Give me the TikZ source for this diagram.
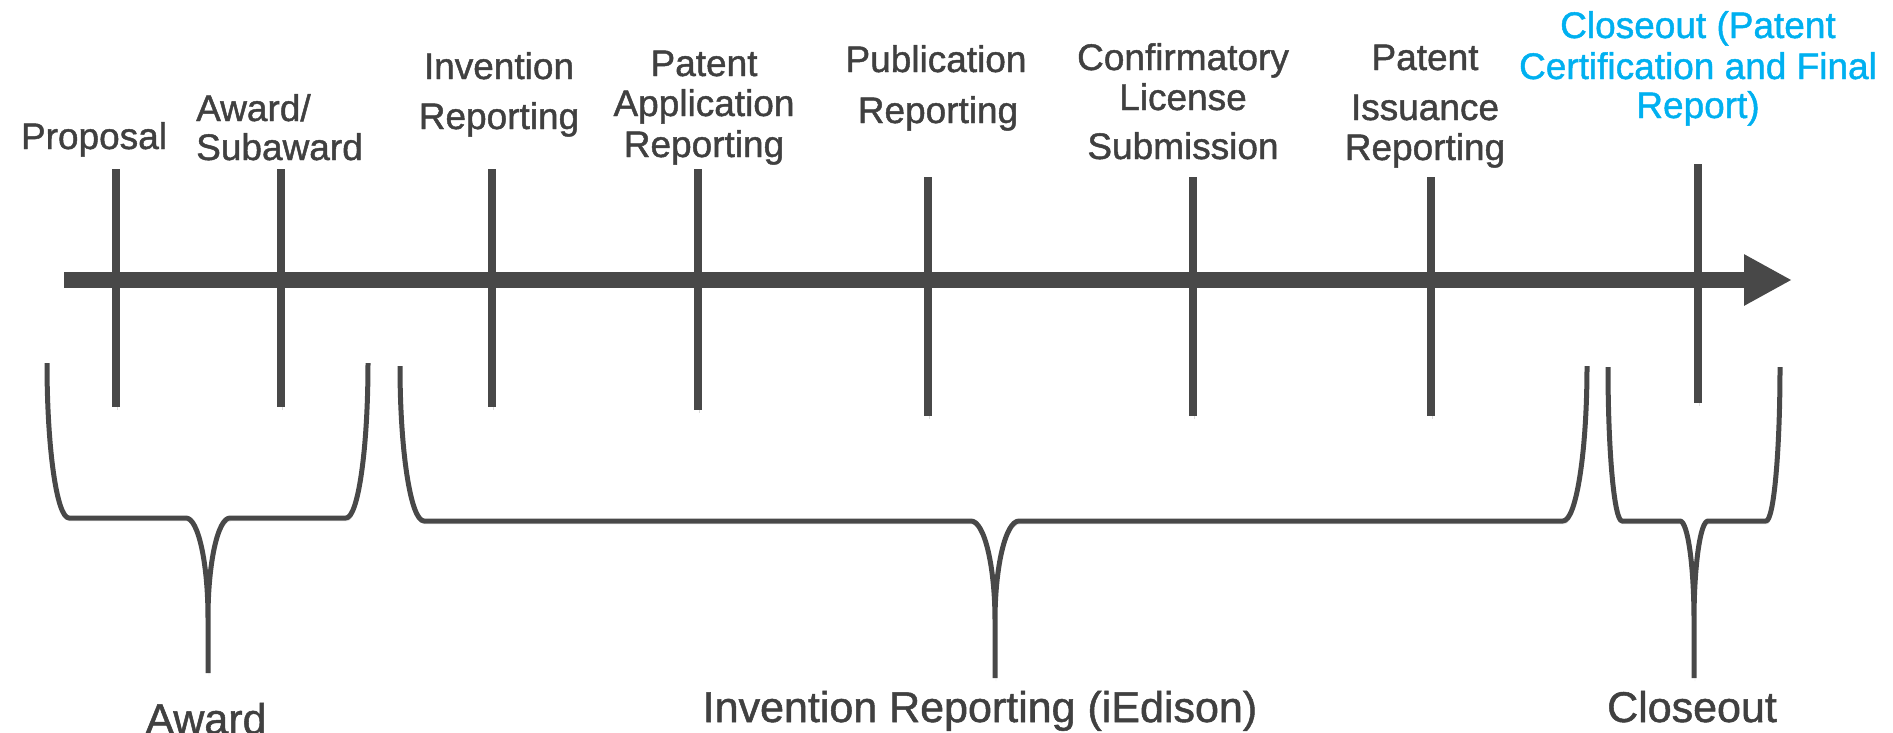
\documentclass[tikz,border=0pt]{standalone}
\usepackage{fontspec}
\setmainfont{Liberation Sans}[FakeBold=1.2]
\usetikzlibrary{arrows.meta}
\definecolor{ink}{HTML}{484848}
\definecolor{txt}{HTML}{404040}
\definecolor{sky}{HTML}{00B0F0}

% horizontal curly bracket opening upwards:
% #1 left x, #2 right x, #3 centre x, #4 top y, #5 bar y, #6 tip y, #7 bend width, #8 bend depth at the centre
\newcommand\phasebrace[8]{%
  \draw[bracestroke]
    (#1,#4) .. controls (#1,{#4+0.5523*(#5-#4)}) and ({#1+0.4477*#7},#5) .. ({#1+#7},#5)
    -- ({#3-#7},#5) .. controls ({#3-0.4477*#7},#5) and (#3,{#5+0.4477*#8}) .. (#3,{#5+#8})
    -- (#3,#6)
    (#2,#4) .. controls (#2,{#4+0.5523*(#5-#4)}) and ({#2-0.4477*#7},#5) .. ({#2-#7},#5)
    -- ({#3+#7},#5) .. controls ({#3+0.4477*#7},#5) and (#3,{#5+0.4477*#8}) .. (#3,{#5+#8});
}

\begin{document}
\begin{tikzpicture}[x=1pt,y=-1pt,
  softshadow/.style={preaction={draw=black,draw opacity=0.14,transform canvas={shift={(1,3)}}}},
  milestone/.style={draw=ink,line width=7.5pt,softshadow},
  bracestroke/.style={draw=ink,line width=5pt,line join=round,softshadow},
  timeline/.style={draw=ink,line width=16pt,-{Triangle[length=48pt,width=48pt]}},
  lbl/.style={anchor=base,inner sep=0pt,text=txt,font=\fontsize{37}{40}\selectfont},
  phase/.style={anchor=base,inner sep=0pt,text=txt,font=\fontsize{43}{46}\selectfont}]
\useasboundingbox (0,0) rectangle (1893,732);

% time axis
\coordinate (axis-start) at (64,280);
\coordinate (axis-end) at (1792,280);
\draw[timeline] (axis-start) -- (axis-end);

% milestone ticks
\foreach \n/\x/\a/\b in {pro/116/169/407, awd/281/169/407, inv/492/169/407,
    app/698/169/410, pub/928/177/416, lic/1193/177/416, iss/1431/177/416, clo/1698/164/403}{
  \coordinate (\n-top) at (\x,\a);
  \coordinate (\n-bot) at (\x,\b);
  \draw[milestone] (\n-top) -- (\n-bot);
}

% milestone labels
\node[lbl] (proposal) at (94,149) {Proposal};
\node[lbl,anchor=base west] (award-a) at (196,121) {Award/};
\node[lbl,anchor=base west] (award-b) at (196,160) {Subaward};
\node[lbl] (inv-a) at (499,79) {Invention};
\node[lbl] (inv-b) at (499,129) {Reporting};
\node[lbl] (app-a) at (704,76) {Patent};
\node[lbl] (app-b) at (704,116) {Application};
\node[lbl] (app-c) at (704,157) {Reporting};
\node[lbl] (pub-a) at (936,72) {Publication};
\node[lbl] (pub-b) at (938,123) {Reporting};
\node[lbl] (lic-a) at (1183,70) {Confirmatory};
\node[lbl] (lic-b) at (1183,110) {License};
\node[lbl] (lic-c) at (1183,159) {Submission};
\node[lbl] (iss-a) at (1425,70) {Patent};
\node[lbl] (iss-b) at (1425,120) {Issuance};
\node[lbl] (iss-c) at (1425,160) {Reporting};
\node[lbl,text=sky] (clo-a) at (1698,38) {Closeout (Patent};
\node[lbl,text=sky] (clo-b) at (1698,79) {Certification and Final};
\node[lbl,text=sky] (clo-c) at (1698,118) {Report)};

% phase brackets
\phasebrace{47}{368}{208}{363}{518}{673}{22}{100}
\phasebrace{400}{1587}{995}{366}{521}{678}{24}{100}
\phasebrace{1608}{1780}{1694}{367}{521}{678}{14}{100}

% phase names
\node[phase] (ph-award) at (206,734) {Award};
\node[phase] (ph-inv) at (980,722) {Invention Reporting (iEdison)};
\node[phase] (ph-clo) at (1692,722) {Closeout};
\end{tikzpicture}
\end{document}
